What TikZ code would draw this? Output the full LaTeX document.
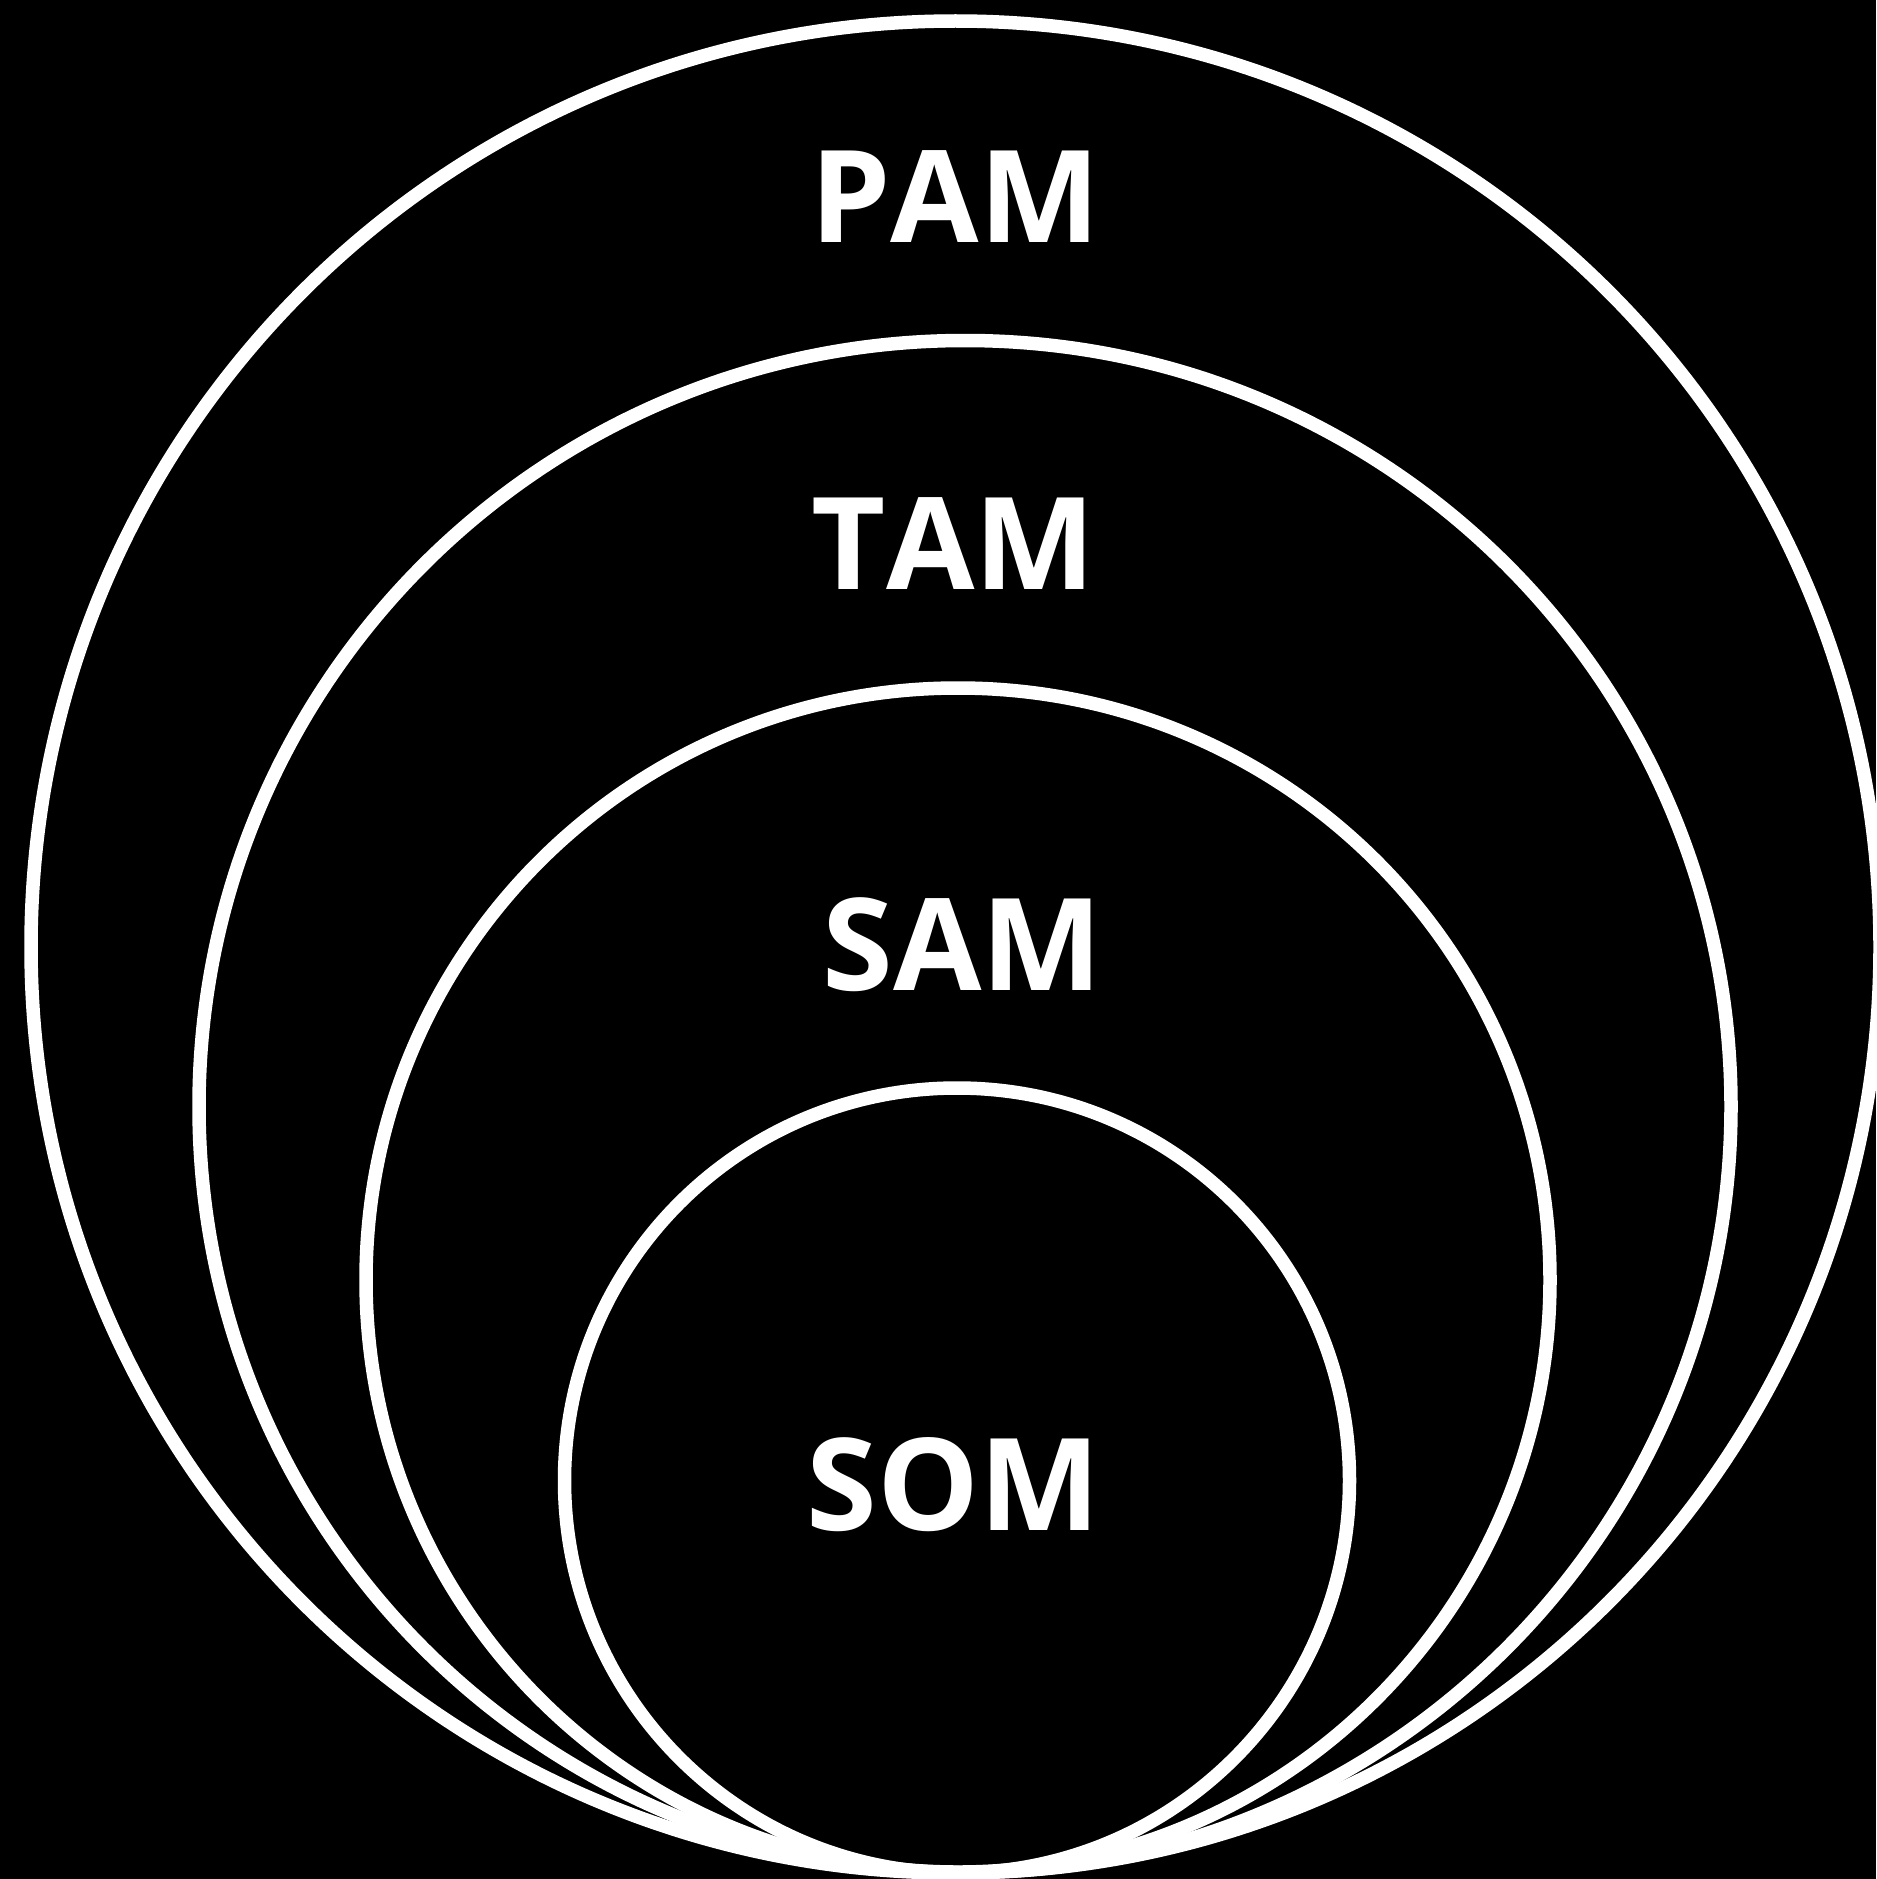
\documentclass[tikz,border=0pt]{standalone}
\usepackage{fontspec}
\setmainfont{Open Sans}
\newcommand{\nk}{\kern0pt\relax}
\begin{document}
\begin{tikzpicture}[x=0.4pt,y=-0.4pt,
  ring/.style={draw=white,line width=5.4pt},
  lbl/.style={text=white,font=\fontsize{51.3pt}{60pt}\selectfont\bfseries,anchor=base,inner sep=0pt}]
\fill[black] (0,0) rectangle (1876,1879);
\useasboundingbox (0,0) rectangle (1876,1879);
\clip (0,0) rectangle (1876,1879);
% rings
\draw[ring] (955.5,947) ellipse [x radius=924.5, y radius=926];
\draw[ring] (965,1106.5) circle [radius=766];
\draw[ring] (958,1280) circle [radius=592];
\draw[ring] (957,1480.5) circle [radius=392.5];
% labels
\node[lbl] (pam) at (955,242.3) {P\nk A\nk M};
\node[lbl] (tam) at (953.6,589.8) {T\nk A\nk M};
\node[lbl] (sam) at (962.5,990.1) {S\nk A\nk M};
\node[lbl] (som) at (953.5,1530) {S\nk O\nk M};
\end{tikzpicture}
\end{document}
